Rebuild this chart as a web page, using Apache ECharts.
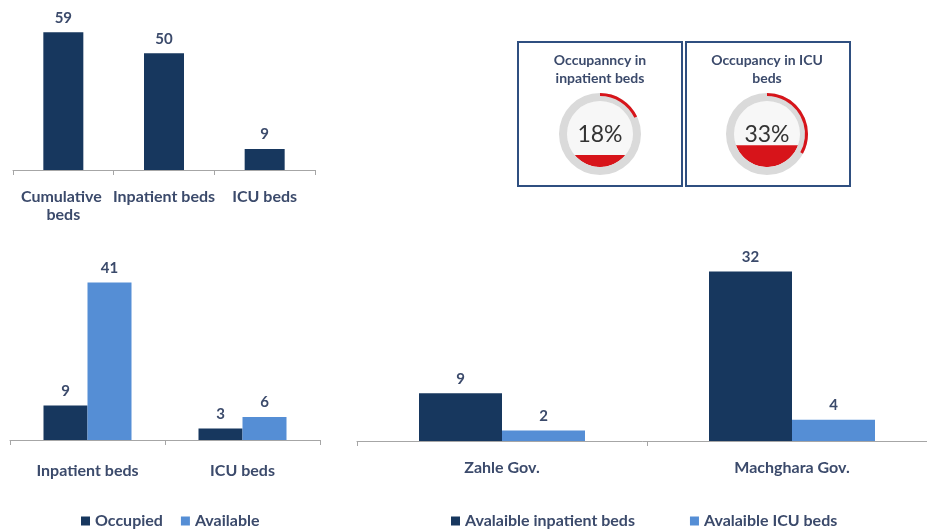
<!DOCTYPE html>
<html>
<head>
<meta charset="utf-8">
<script src="https://cdn.jsdelivr.net/npm/echarts@6/dist/echarts.min.js"></script>
<style>
  html, body { margin: 0; padding: 0; background: #fff; }
  #main { width: 927px; height: 530px; }
</style>
</head>
<body>
<div id="main"></div>
<script>
// top left: bed totals
const totalCats = ['Cumulative beds', 'Inpatient beds', 'ICU beds'];
const totalBeds = [59, 50, 9];

// bottom left: occupied vs available
const statusCats = ['Inpatient beds', 'ICU beds'];
const occupied = [9, 3];
const available = [41, 6];

// bottom right: by governorate
const govCats = ['Zahle Gov.', 'Machghara Gov.'];
const availInpatient = [9, 32];
const availIcu = [2, 4];

// occupancy gauges
const occNames = ['Occupanncy in\ninpatient beds', 'Occupancy in ICU\nbeds'];
const occPct = [18, 33];

const DARK = '#17375e';
const LIGHT = '#558ed5';
const TXT = '#3b4a6b';
const RED = '#d7141a';
const AXIS = '#a6a6a6';
const FONT = 'Lato, "Open Sans", sans-serif';

const gaugeCenters = [[600, 134], [767, 134]];
const ringR = 41;
const innerR = 33;

function xAxisFor(idx, cats, margin, extra) {
  return {
    type: 'category',
    gridIndex: idx,
    data: cats,
    axisLine: { lineStyle: { color: AXIS } },
    axisTick: { show: true, length: 5, lineStyle: { color: AXIS } },
    axisLabel: Object.assign({
      color: TXT, fontWeight: 'bold', fontSize: 16, fontFamily: FONT,
      margin: margin, interval: 0, lineHeight: 18
    }, extra || {})
  };
}

function yAxisFor(idx, max) {
  return {
    type: 'value', gridIndex: idx, min: 0, max: max,
    show: false, splitLine: { show: false }
  };
}

const barLabel = {
  show: true, position: 'top', distance: 7,
  color: TXT, fontWeight: 'bold', fontSize: 15, fontFamily: FONT
};

const legendText = { color: TXT, fontWeight: 'bold', fontSize: 16, fontFamily: FONT };

function gauge(i) {
  return {
    type: 'gauge',
    center: gaugeCenters[i],
    radius: ringR,
    startAngle: 90,
    endAngle: -270,
    min: 0,
    max: 100,
    z: 3,
    axisLine: { lineStyle: { width: 8, color: [[1, '#dadada']] } },
    progress: { show: true, width: 3, itemStyle: { color: RED } },
    pointer: { show: false },
    anchor: { show: false },
    axisTick: { show: false },
    splitLine: { show: false },
    axisLabel: { show: false },
    title: {
      offsetCenter: [0, -65], fontSize: 14, fontWeight: 'bold',
      color: TXT, lineHeight: 18, fontFamily: FONT
    },
    detail: {
      offsetCenter: [0, 1], formatter: '{value}%', fontSize: 23,
      color: '#333', fontWeight: 'normal', fontFamily: FONT
    },
    data: [{ value: occPct[i], name: occNames[i] }]
  };
}

const chart = echarts.init(document.getElementById('main'));

const option = {
  animation: false,
  backgroundColor: '#fff',
  textStyle: { fontFamily: FONT },
  graphic: [
    { type: 'rect', shape: { x: 518, y: 42, width: 164, height: 144 },
      style: { fill: 'none', stroke: '#2f4f80', lineWidth: 2 } },
    { type: 'rect', shape: { x: 686, y: 42, width: 164, height: 144 },
      style: { fill: 'none', stroke: '#2f4f80', lineWidth: 2 } }
  ],
  legend: [
    {
      data: ['Occupied', 'Available'],
      left: 81, top: 513, padding: 0, icon: 'rect', itemWidth: 9, itemHeight: 9, itemGap: 18,
      textStyle: legendText
    },
    {
      data: ['Avalaible inpatient beds', 'Avalaible ICU beds'],
      left: 451, top: 513, padding: 0, icon: 'rect', itemWidth: 9, itemHeight: 9, itemGap: 55,
      textStyle: legendText
    }
  ],
  grid: [
    { left: 13, width: 302, top: 30, height: 140, outerBoundsMode: 'none' },
    { left: 10, width: 310, top: 248, height: 192, outerBoundsMode: 'none' },
    { left: 357, width: 580, top: 229, height: 212, outerBoundsMode: 'none' }
  ],
  xAxis: [
    xAxisFor(0, totalCats, 18, { width: 108, overflow: 'break' }),
    xAxisFor(1, statusCats, 22),
    xAxisFor(2, govCats, 18)
  ],
  yAxis: [yAxisFor(0, 60), yAxisFor(1, 50), yAxisFor(2, 40)],
  series: [
    {
      name: 'Beds', type: 'bar', xAxisIndex: 0, yAxisIndex: 0,
      data: totalBeds, barWidth: 40, itemStyle: { color: DARK }, label: barLabel
    },
    {
      name: 'Occupied', type: 'bar', xAxisIndex: 1, yAxisIndex: 1,
      data: occupied, barWidth: 44, barGap: '0%', itemStyle: { color: DARK }, label: barLabel
    },
    {
      name: 'Available', type: 'bar', xAxisIndex: 1, yAxisIndex: 1,
      data: available, barWidth: 44, barGap: '0%', itemStyle: { color: LIGHT }, label: barLabel
    },
    {
      name: 'Avalaible inpatient beds', type: 'bar', xAxisIndex: 2, yAxisIndex: 2,
      data: availInpatient, barWidth: 83, barGap: '0%', itemStyle: { color: DARK }, label: barLabel
    },
    {
      name: 'Avalaible ICU beds', type: 'bar', xAxisIndex: 2, yAxisIndex: 2,
      data: availIcu, barWidth: 83, barGap: '0%', itemStyle: { color: LIGHT }, label: barLabel
    },
    {
      // red "liquid" level inside each gauge
      type: 'custom',
      coordinateSystem: 'none',
      silent: true,
      z: 1,
      data: occPct.map((v, i) => [i, v]),
      renderItem: (params, api) => {
        const c = gaugeCenters[api.value(0)];
        const r = innerR;
        const f = api.value(1) / 100;
        const d = r - 2 * r * f;
        const a0 = Math.asin(Math.max(-1, Math.min(1, d / r)));
        const pts = [];
        for (let k = 0; k <= 48; k++) {
          const t = a0 + (Math.PI - 2 * a0) * k / 48;
          pts.push([c[0] + r * Math.cos(t), c[1] + r * Math.sin(t)]);
        }
        return {
          type: 'group',
          children: [
            { type: 'circle', shape: { cx: c[0], cy: c[1], r: r }, style: { fill: '#f7f7f7' } },
            { type: 'polygon', shape: { points: pts }, style: { fill: RED } }
          ]
        };
      }
    },
    gauge(0),
    gauge(1)
  ]
};

chart.setOption(option);
</script>
</body>
</html>
